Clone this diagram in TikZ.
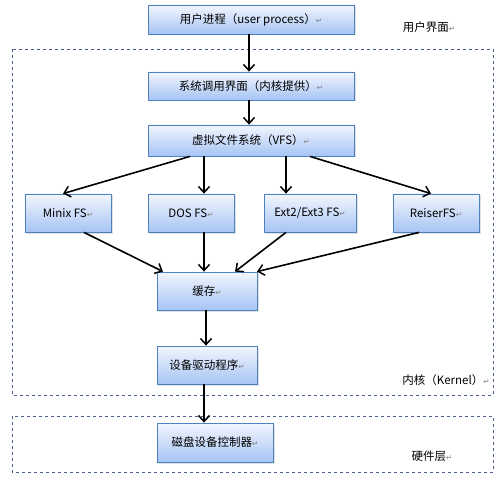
\documentclass[tikz,border=0pt]{standalone}
\usepackage{fontspec}
\setmainfont{Noto Sans CJK SC}
\newfontfamily\markfont{DejaVu Sans}
\usetikzlibrary{arrows.meta,shadows}

\definecolor{boxline}{HTML}{4F81BD}
\definecolor{boxtop}{HTML}{F2F6FE}
\definecolor{boxbot}{HTML}{A6C4F4}
\definecolor{frameline}{HTML}{4A5F8A}
\newcommand{\pmark}{{\markfont\color{gray}\fontsize{7.5}{8}\selectfont ↵}}

\begin{document}
\begin{tikzpicture}[x=1pt, y=-1pt, ->, >={Straight Barb[length=6pt,width=11pt,line width=1.5pt]}, line width=1.6pt,
  layer/.style={draw=frameline, dashed, line width=0.6pt, -},
  fsbox/.style={rectangle, draw=boxline, line width=0.8pt, top color=boxtop, bottom color=boxbot,
    inner sep=0pt, minimum height=38pt, font=\fontsize{11.5}{13}\selectfont,
    drop shadow={opacity=0.25, shadow xshift=1.5pt, shadow yshift=-1.5pt}},
  note/.style={font=\fontsize{11.5}{13}\selectfont}]

\fill[white] (0,0) rectangle (503,481);

% layers
\draw[layer] (12,49) rectangle (493,395);
\draw[layer] (12,416) rectangle (493,472);
\node[note] (userlbl)   at (429,27)  {用户界面\pmark};
\node[note] (kernellbl) at (446,380) {内核（Kernel）\pmark};
\node[note] (hwlbl)     at (432,456) {硬件层\pmark};

% boxes
\node[fsbox, minimum width=206pt, minimum height=29pt] (user)    at (251,19.5)  {用户进程（user process）\pmark};
\node[fsbox, minimum width=206pt, minimum height=28pt] (syscall) at (251,86)    {系统调用界面（内核提供）\pmark};
\node[fsbox, minimum width=206pt, minimum height=31pt] (vfs)     at (251,140.5) {虚拟文件系统（VFS）\pmark};
\node[fsbox, minimum width=86pt] (minix)  at (68,213)  {Minix FS\pmark};
\node[fsbox, minimum width=86pt] (dos)    at (191,213) {DOS FS\pmark};
\node[fsbox, minimum width=92pt] (ext)    at (310,213) {Ext2/Ext3 FS\pmark};
\node[fsbox, minimum width=86pt] (reiser) at (436,213) {ReiserFS\pmark};
\node[fsbox, minimum width=100pt] (cache)  at (207,291) {缓存\pmark};
\node[fsbox, minimum width=100pt] (driver) at (207,365) {设备驱动程序\pmark};
\node[fsbox, minimum width=116pt, minimum height=39pt] (disk) at (215,442.5) {磁盘设备控制器\pmark};

% arrows
\draw ([xshift=-2pt]user.south) -> ([xshift=-2pt]syscall.north);
\draw ([xshift=-2pt]syscall.south) -> ([xshift=-2pt]vfs.north);
\draw ([xshift=-61pt]vfs.south) -> ([xshift=-5pt]minix.north);
\draw ([xshift=-47pt]vfs.south) -> ([xshift=13pt]dos.north);
\draw ([xshift=35pt]vfs.south) -> ([xshift=-24pt]ext.north);
\draw ([xshift=59pt]vfs.south) -> ([xshift=-5pt]reiser.north);
\draw ([xshift=16pt]minix.south) -> ([xshift=-44pt]cache.north);
\draw ([xshift=13pt]dos.south) -> ([xshift=-3pt]cache.north);
\draw ([xshift=-24pt]ext.south) -> ([xshift=28pt]cache.north);
\draw ([xshift=-17pt]reiser.south) -> ([xshift=50pt]cache.north);
\draw ([xshift=-1pt]cache.south) -> ([xshift=-1pt]driver.north);
\draw ([xshift=-3pt]driver.south) -> ([xshift=-11pt]disk.north);

\end{tikzpicture}
\end{document}
